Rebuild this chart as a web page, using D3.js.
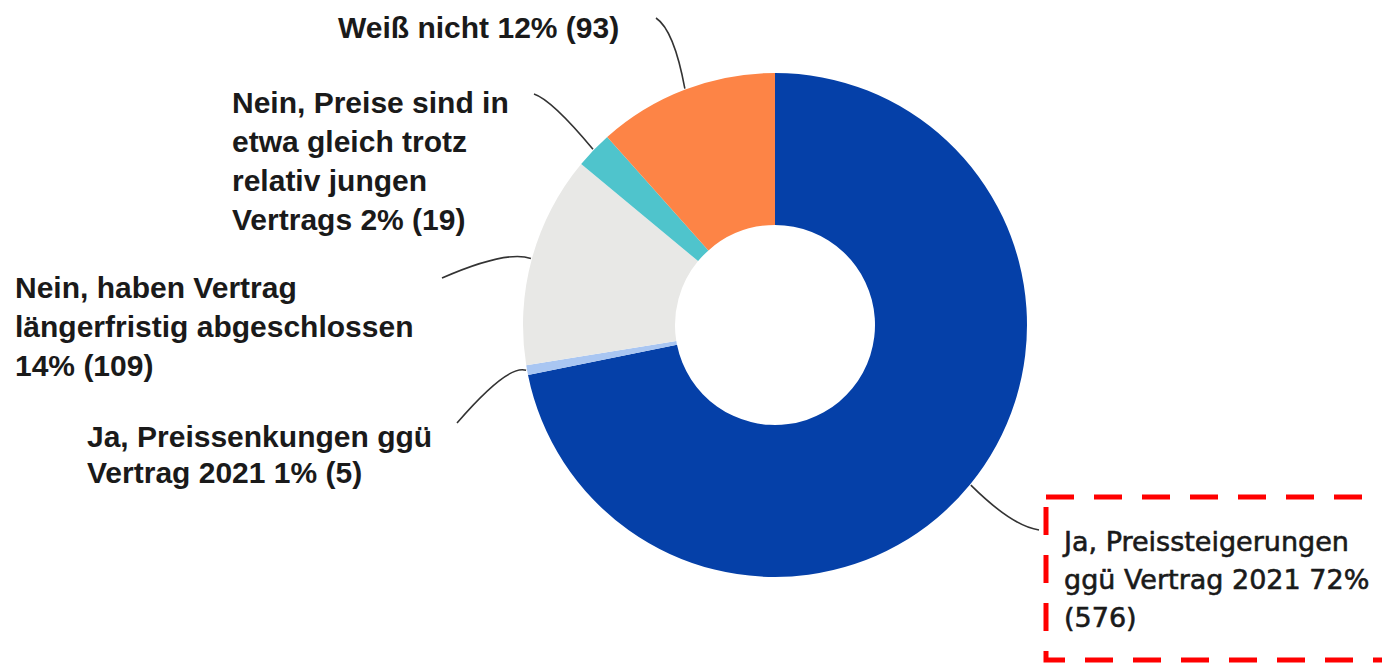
<!DOCTYPE html>
<html>
<head>
<meta charset="utf-8">
<script src="https://cdn.jsdelivr.net/npm/d3@7"></script>
<style>
  html, body { margin: 0; padding: 0; background: #fff; }
  svg { display: block; }
</style>
</head>
<body>
<svg id="chart" width="1382" height="664"></svg>
<script>
// Survey answers: price change vs. the 2021 contract
const categories = [
  "Ja, Preissteigerungen ggü Vertrag 2021",
  "Ja, Preissenkungen ggü Vertrag 2021",
  "Nein, haben Vertrag längerfristig abgeschlossen",
  "Nein, Preise sind in etwa gleich trotz relativ jungen Vertrags",
  "Weiß nicht"
];
const counts = [576, 5, 109, 19, 93];
const percents = [72, 1, 14, 2, 12];

// Label text broken into lines
const labelLines = [
  ["Ja, Preissteigerungen", "ggü Vertrag 2021 72%", "(576)"],
  ["Ja, Preissenkungen ggü", "Vertrag 2021 1% (5)"],
  ["Nein, haben Vertrag", "längerfristig abgeschlossen", "14% (109)"],
  ["Nein, Preise sind in", "etwa gleich trotz", "relativ jungen", "Vertrags 2% (19)"],
  ["Weiß nicht 12% (93)"]
];

const colors = ["#0540a8", "#a9c6f2", "#e8e8e6", "#4fc4cc", "#fd8446"];

// Label placement: first baseline, leader end and its bend point
const labelLayout = [
  { x: 1064, y: 551, lh: 38, end: [1039, 530], ctrl: [1012, 526], weight: 400, family: "DejaVu Sans", size: 27, stroke: 0.6 },
  { x: 87,   y: 447, lh: 36, end: [457, 423],  ctrl: [508, 364] },
  { x: 15,   y: 298, lh: 39, end: [442, 278],  ctrl: [506, 250] },
  { x: 232,  y: 113, lh: 39, end: [534, 94],   ctrl: [552, 100] },
  { x: 338,  y: 38,  lh: 39, end: [656, 18],   ctrl: [674, 30] }
];

const svg = d3.select("#chart");
const cx = 775, cy = 325, outerR = 252, innerR = 100;

const pie = d3.pie().sort(null).value(d => d)(counts);
const arc = d3.arc().innerRadius(innerR).outerRadius(outerR);

const g = svg.append("g").attr("transform", `translate(${cx},${cy})`);
g.selectAll("path.slice")
  .data(pie)
  .join("path")
  .attr("class", "slice")
  .attr("d", arc)
  .attr("fill", (d, i) => colors[i]);

// Leader lines from the outer rim at each slice's mid angle
const leaders = svg.append("g")
  .attr("fill", "none")
  .attr("stroke", "#333")
  .attr("stroke-width", 1.6);
pie.forEach((d, i) => {
  const a = (d.startAngle + d.endAngle) / 2;
  const sx = cx + Math.sin(a) * (outerR + 1);
  const sy = cy - Math.cos(a) * (outerR + 1);
  const L = labelLayout[i];
  const p = d3.path();
  p.moveTo(sx, sy);
  p.quadraticCurveTo(L.ctrl[0], L.ctrl[1], L.end[0], L.end[1]);
  leaders.append("path").attr("d", p.toString());
});

// Labels
labelLines.forEach((lines, i) => {
  const L = labelLayout[i];
  const t = svg.append("text")
    .attr("x", L.x)
    .attr("y", L.y)
    .attr("fill", "#1a1a1a")
    .attr("font-family", L.family || "Liberation Sans, Arial, sans-serif")
    .attr("font-weight", L.weight || 700)
    .attr("font-size", L.size || 30);
  if (L.stroke) {
    t.attr("stroke", "#1a1a1a").attr("stroke-width", L.stroke);
  }
  lines.forEach((s, k) => {
    t.append("tspan").attr("x", L.x).attr("y", L.y + k * L.lh).text(s);
  });
});

// Dashed highlight frame around the largest answer
svg.append("rect")
  .attr("x", 1046)
  .attr("y", 497)
  .attr("width", 360)
  .attr("height", 163)
  .attr("fill", "none")
  .attr("stroke", "#ff0000")
  .attr("stroke-width", 5)
  .attr("stroke-dasharray", "28 20");
</script>
</body>
</html>
